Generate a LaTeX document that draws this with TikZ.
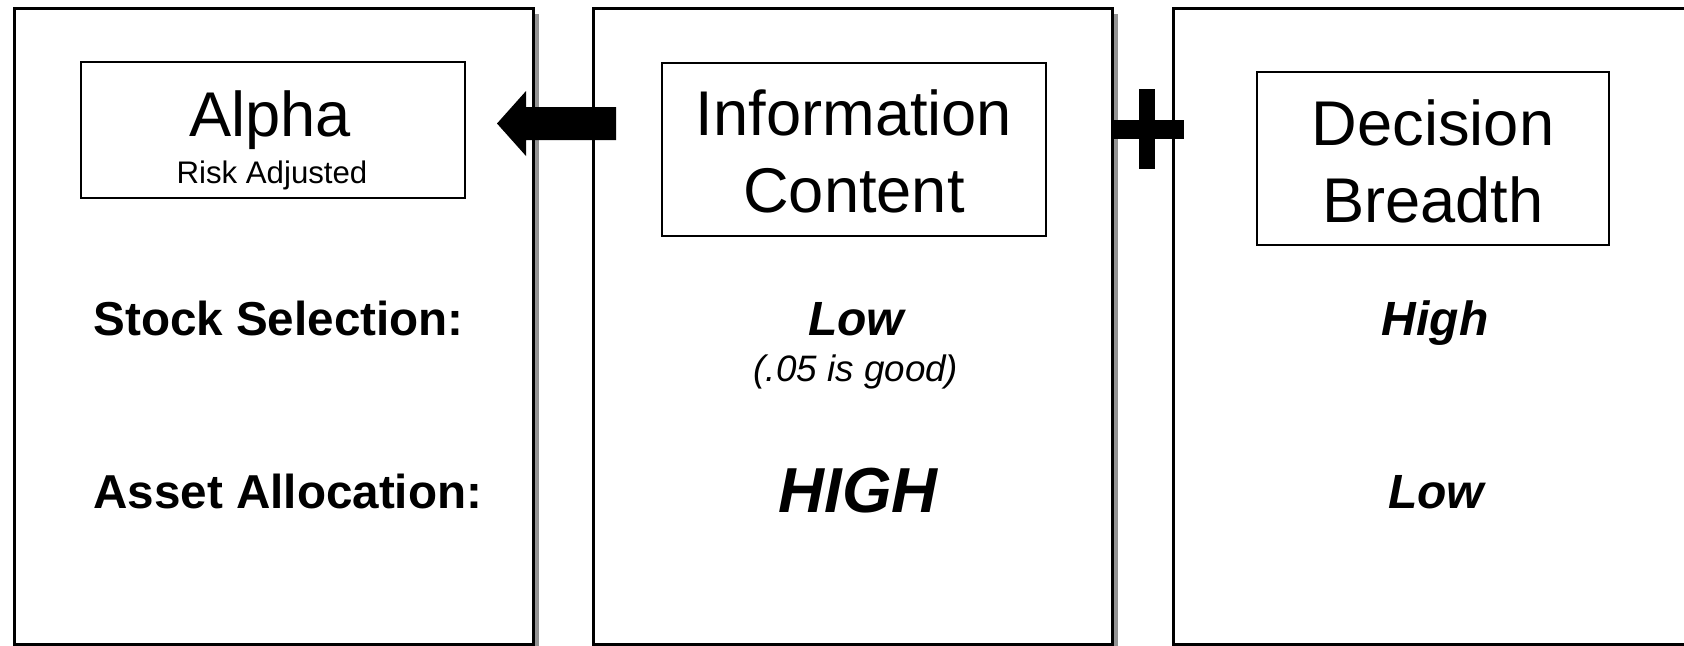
\documentclass[tikz,border=0pt]{standalone}
\usepackage{fontspec}
\setmainfont{Liberation Sans}
\usetikzlibrary{shadows}
\begin{document}
\begin{tikzpicture}[x=0.5pt, y=-0.5pt,
    every node/.style={inner sep=0pt},
    panel/.style={draw, line width=1.5pt, fill=white, minimum width=259.5pt, minimum height=318pt,
        drop shadow={shadow xshift=2.5pt, shadow yshift=-2.5pt, fill=gray!85, opacity=1}},
    headbox/.style={draw, line width=0.65pt, minimum width=192pt, minimum height=86.5pt},
    headtext/.style={anchor=base, font=\fontsize{31.6}{38}\selectfont},
    rowlabel/.style={anchor=base west, font=\fontsize{23.8}{28}\selectfont\bfseries},
    rating/.style={anchor=base, font=\fontsize{24}{28}\selectfont\bfseries\itshape}]
    \clip (0,0) rectangle (1684,645);
    % three columns
    \foreach \name/\x in {alphapanel/274, infopanel/853.25, breadthpanel/1432.5} {
        \node[panel] (\name) at (\x,326.5) {};
    }
    \node[headbox, minimum height=68pt] (alphabox) at (273,130) {};
    \node[headbox] (infobox) at (854,149.5) {};
    \node[headbox, minimum width=176pt] (breadthbox) at (1433,158.5) {};
    \node[headtext] (alpha) at (270,136.7) {Alpha};
    \node[anchor=base, font=\fontsize{15.6}{18}\selectfont] (risk) at (272,183) {Risk Adjusted};
    \node[headtext] (info1) at (854,135) {Information};
    \node[headtext] (info2) at (854,212) {Content};
    \node[headtext] (breadth1) at (1433,145) {Decision};
    \node[headtext] (breadth2) at (1433,222) {Breadth};
    % rows
    \node[rowlabel] (stock) at (93,335) {Stock Selection:};
    \node[rowlabel] (asset) at (93,508) {Asset Allocation:};
    \node[rating] (stockic) at (856,335) {Low};
    \node[anchor=base, font=\fontsize{18.4}{22}\selectfont\itshape] (icnote) at (856,381) {(.05 is good)};
    \node[rating, font=\fontsize{31.8}{38}\selectfont\bfseries\itshape] (assetic) at (858,512) {HIGH};
    \node[rating] (stockbr) at (1435,335) {High};
    \node[rating] (assetbr) at (1436,508) {Low};
    % arrow and plus sign
    \fill (616,107) -- (526,107) -- (526,91) -- (497,123.5) -- (526,156) -- (526,140) -- (616,140) -- cycle;
    \fill (1111,120) rectangle (1184,139);
    \fill (1139,89) rectangle (1155,169);
\end{tikzpicture}
\end{document}
